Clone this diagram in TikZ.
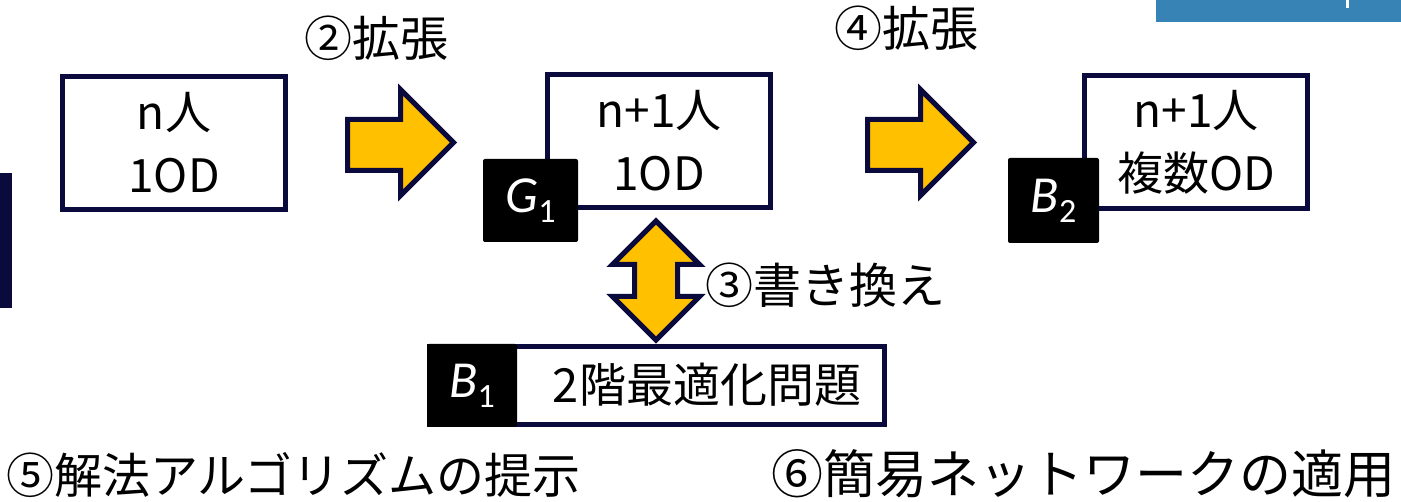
\documentclass[tikz,border=0pt]{standalone}
\usepackage{fontspec}
\setmainfont{Noto Sans CJK JP}
\newfontfamily\labfont{Carlito}
\definecolor{navy}{HTML}{0A0A3C}
\definecolor{gold}{HTML}{FFC000}
\definecolor{barblue}{HTML}{3783B5}
\tikzset{
  box/.style={draw=navy, line width=5pt, fill=white, minimum width=223pt, minimum height=133pt, inner sep=0pt, align=center, font=\fontsize{46}{63}\selectfont},
  tag/.style={fill=black, rounded corners=2pt, inner sep=0pt, text=white},
  blockarrow/.style={draw=navy, fill=gold, line width=5pt, line join=miter},
  lab/.style={inner sep=0pt, font=\fontsize{48}{50}\selectfont},
}
\newcommand{\tagtext}[2]{{\labfont\fontsize{52}{52}\selectfont\itshape #1}\raisebox{-10pt}{\labfont\fontsize{34}{34}\selectfont #2}}
\begin{document}
\begin{tikzpicture}[x=1pt,y=-1pt]
\useasboundingbox (0,0) rectangle (1401,502);
% decorations at edges
\fill[barblue] (1156,0) rectangle (1401,22);
\fill[white] (1346,0) rectangle (1349,8);
\fill[navy] (0,173) rectangle (12,308);
% boxes
\node[box] (b1) at (174,143) {n人\\1OD};
\node[box] (b2) at (659,141) {n+1人\\1OD};
\node[box] (b3) at (1196,142) {n+1人\\複数OD};
\node[tag, minimum width=95pt, minimum height=83pt] (g1) at (530.5,200.5) {\tagtext{G}{1}};
\node[tag, minimum width=91pt, minimum height=85pt] (bb2) at (1053.5,200.5) {\tagtext{B}{2}};
% bilevel box
\node[box, minimum width=455pt, minimum height=78pt] (bl) at (657,385.5) {};
\node[tag, minimum width=90pt, minimum height=83pt] (bb1) at (472,385.5) {\tagtext{B}{1}};
\node[inner sep=0pt, font=\fontsize{47}{47}\selectfont] (blt) at (707,385) {2階最適化問題};
% block arrows
\draw[blockarrow] (347.5,119.5) -- (400.5,119.5) -- (400.5,89.5) -- (453.5,142.5) -- (400.5,195.5) -- (400.5,170.5) -- (347.5,170.5) -- cycle;
\draw[blockarrow] (867.5,119.5) -- (920.5,119.5) -- (920.5,89.5) -- (973.5,142.5) -- (920.5,195.5) -- (920.5,170.5) -- (867.5,170.5) -- cycle;
\draw[blockarrow] (656,221) -- (699.5,264.5) -- (677.5,264.5) -- (677.5,296.5) -- (699.5,296.5) -- (656,340) -- (612.5,296.5) -- (634.5,296.5) -- (634.5,264.5) -- (612.5,264.5) -- cycle;
% labels
\node[lab] (l2) at (376,38) {②拡張};
\node[lab] (l4) at (906,28) {④拡張};
\node[lab] (l3) at (825,285) {③書き換え};
\node[lab, anchor=west] (l5) at (6,475) {⑤解法アルゴリズムの提示};
\node[lab, anchor=east, font=\fontsize{52}{54}\selectfont] (l6) at (1396,474) {⑥簡易ネットワークの適用};
\end{tikzpicture}
\end{document}
